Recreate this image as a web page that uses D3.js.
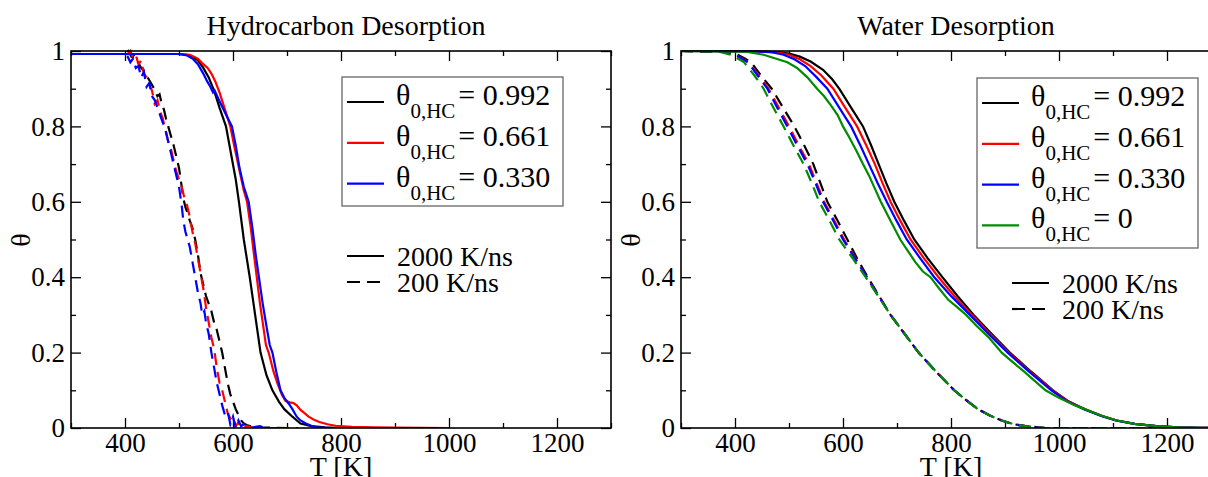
<!DOCTYPE html>
<html>
<head>
<meta charset="utf-8">
<script src="https://cdn.jsdelivr.net/npm/d3@7"></script>
<style>
  body { margin: 0; background: #fff; }
  svg text { font-family: "Liberation Serif", "DejaVu Serif", serif; fill: #000; }
</style>
</head>
<body>
<svg id="chart" width="1208" height="477" font-family="Liberation Serif, DejaVu Serif, serif"></svg>
<script>
// ---- data: [T (K), theta] ----
var hcSolidBlack = [[300,.992],[500,.992],[515,.99],[525,.985],[535,.975],[545,.955],[555,.93],[565,.895],[575,.85],[587,.8],[596,.73],[605,.66],[611,.6],[620,.5],[631,.4],[641,.3],[651,.2],[662,.14],[673,.1],[685,.07],[695,.05],[710,.03],[725,.012],[745,.005],[770,.002],[800,0],[1000,0]]
var hcSolidRed = [[300,.992],[500,.992],[520,.99],[535,.98],[545,.965],[553,.955],[560,.94],[567,.92],[575,.89],[584,.85],[595,.8],[602,.75],[608,.71],[614,.67],[620,.63],[626,.6],[633,.53],[638,.47],[644,.4],[650,.33],[656,.27],[661,.22],[666,.2],[675,.15],[682,.12],[690,.09],[697,.072],[705,.068],[712,.066],[718,.06],[725,.048],[732,.04],[740,.03],[750,.022],[760,.016],[775,.01],[790,.006],[820,.003],[860,.002],[900,.001],[1000,0]]
var hcSolidBlue = [[300,.992],[500,.992],[515,.988],[525,.98],[535,.965],[545,.94],[552,.92],[558,.905],[563,.89],[566,.895],[574,.87],[584,.84],[598,.8],[605,.75],[612,.69],[620,.64],[629,.6],[636,.53],[642,.46],[648,.4],[655,.33],[662,.27],[668,.22],[673,.2],[680,.15],[688,.1],[695,.08],[703,.065],[710,.05],[718,.03],[725,.02],[735,.012],[745,.006],[754,.002],[780,0],[980,0]]
var hcDashBlack = [[300,.992],[400,.992],[406,1],[412,.985],[418,.99],[424,.97],[430,.955],[436,.945],[442,.93],[448,.915],[454,.9],[460,.88],[464,.885],[468,.86],[472,.845],[476,.82],[480,.8],[485,.775],[490,.75],[495,.72],[500,.69],[504,.65],[508,.61],[512,.585],[516,.57],[520,.55],[525,.53],[530,.5],[535,.46],[540,.41],[545,.38],[550,.35],[555,.33],[560,.31],[565,.28],[570,.26],[575,.23],[580,.2],[585,.16],[590,.12],[595,.09],[600,.07],[605,.05],[610,.035],[615,.02],[620,.012],[625,.008],[635,.004],[650,.002],[670,.001],[700,0],[720,0]]
var hcDashRed = [[300,.992],[400,.992],[405,.99],[410,1],[415,.98],[420,.99],[425,.965],[430,.975],[435,.94],[440,.93],[445,.91],[450,.895],[455,.86],[460,.87],[465,.84],[470,.82],[475,.79],[480,.76],[485,.74],[490,.71],[495,.68],[500,.66],[505,.64],[510,.61],[515,.59],[520,.56],[525,.52],[530,.49],[535,.45],[540,.41],[545,.37],[550,.32],[555,.28],[560,.24],[565,.21],[570,.16],[575,.12],[580,.1],[585,.07],[590,.04],[595,.025],[600,.03],[605,.005],[610,.015],[615,0],[625,.005],[640,0],[650,0]]
var hcDashBlue = [[300,.992],[400,.992],[405,.985],[410,.97],[415,.98],[420,.955],[425,.96],[430,.93],[435,.945],[440,.905],[445,.915],[450,.88],[455,.87],[460,.85],[465,.83],[470,.81],[475,.79],[480,.76],[485,.73],[490,.7],[495,.67],[500,.64],[505,.59],[508,.55],[512,.52],[516,.5],[520,.48],[525,.44],[530,.4],[535,.36],[540,.33],[543,.3],[547,.31],[550,.28],[555,.25],[560,.2],[565,.16],[570,.12],[575,.09],[580,.06],[585,.035],[590,.045],[595,.01],[600,.03],[605,0],[610,.02],[615,.005],[620,.01],[630,0],[650,.005],[660,0],[690,0]]

var wSolidBlack = [[300,1],[450,.999],[480,.997],[500,.993],[520,.985],[540,.972],[563,.95],[580,.925],[593,.9],[615,.85],[637,.8],[652,.75],[666,.7],[680,.65],[695,.6],[713,.55],[732,.5],[757,.45],[784,.4],[812,.35],[842,.3],[875,.25],[909,.2],[948,.15],[989,.1],[1018,.07],[1048,.05],[1080,.032],[1107,.02],[1140,.011],[1180,.005],[1220,.002],[1261,.0005],[1300,0]]
var wSolidRed = [[300,1],[450,.999],[480,.996],[500,.99],[520,.978],[540,.96],[560,.935],[582,.9],[604,.85],[626,.8],[643,.75],[659,.7],[673,.65],[688,.6],[706,.55],[725,.5],[750,.45],[777,.4],[806,.35],[839,.3],[872,.25],[907,.2],[946,.15],[988,.1],[1018,.07],[1048,.05],[1080,.032],[1107,.02],[1140,.011],[1180,.005],[1220,.002],[1261,.0005],[1300,0]]
var wSolidBlue = [[300,1],[440,.999],[470,.996],[490,.99],[510,.978],[530,.96],[550,.932],[571,.9],[593,.85],[615,.8],[632,.75],[648,.7],[664,.65],[681,.6],[699,.55],[718,.5],[743,.45],[769,.4],[800,.35],[835,.3],[869,.25],[905,.2],[944,.15],[986,.1],[1016,.07],[1046,.05],[1078,.032],[1105,.02],[1140,.011],[1180,.005],[1220,.002],[1261,.0005],[1300,0]]
var wSolidGreen = [[300,1],[420,.998],[453,.99],[475,.98],[497,.97],[515,.955],[534,.93],[552,.9],[565,.88],[578,.855],[590,.83],[600,.8],[612,.77],[625,.735],[637,.7],[648,.67],[659,.635],[670,.6],[688,.55],[706,.5],[720,.47],[734,.44],[748,.415],[762,.4],[778,.37],[795,.34],[812,.32],[828,.3],[848,.27],[870,.24],[894,.2],[910,.18],[935,.15],[955,.125],[975,.1],[1000,.08],[1030,.06],[1048,.05],[1080,.032],[1107,.02],[1140,.011],[1180,.005],[1220,.002],[1261,.0005],[1300,0]]
var wDashBlack = [[300,1],[385,.998],[405,.99],[418,.98],[430,.97],[448,.935],[468,.9],[489,.85],[510,.8],[528,.75],[545,.7],[558,.65],[571,.6],[590,.55],[608,.5],[626,.45],[646,.4],[667,.35],[688,.3],[714,.25],[740,.2],[772,.15],[806,.1],[827,.075],[850,.05],[872,.033],[894,.02],[916,.01],[938,.005],[960,.002],[975,0],[1300,0]]
var wDashRed = [[300,1],[380,.998],[400,.99],[413,.98],[425,.97],[444,.935],[462,.9],[481,.85],[500,.8],[518,.75],[537,.7],[551,.65],[565,.6],[584,.55],[602,.5],[623,.45],[644,.4],[666,.35],[688,.3],[714,.25],[740,.2],[772,.15],[806,.1],[827,.075],[850,.05],[872,.033],[894,.02],[916,.01],[938,.005],[960,.002],[975,0],[1300,0]]
var wDashBlue = [[300,1],[380,.998],[400,.99],[412,.98],[424,.97],[442,.935],[460,.9],[478,.85],[497,.8],[515,.75],[534,.7],[549,.65],[563,.6],[582,.55],[600,.5],[622,.45],[644,.4],[666,.35],[688,.3],[714,.25],[740,.2],[772,.15],[806,.1],[827,.075],[850,.05],[872,.033],[894,.02],[916,.01],[938,.005],[960,.002],[975,0],[1300,0]]
var wDashGreen = [[300,1],[370,.998],[392,.99],[405,.98],[417,.97],[436,.935],[453,.9],[471,.85],[490,.8],[508,.75],[527,.7],[542,.65],[556,.6],[575,.55],[593,.5],[618,.45],[642,.4],[665,.35],[688,.3],[714,.25],[740,.2],[772,.15],[806,.1],[827,.075],[850,.05],[872,.033],[894,.02],[916,.01],[938,.005],[960,.002],[975,0],[1300,0]]

var xTicks = [400, 600, 800, 1000, 1200]
var xMinor = [300, 500, 700, 900, 1100, 1300]
var yTicks = [0, 0.2, 0.4, 0.6, 0.8, 1]
var yMinor = [0.1, 0.3, 0.5, 0.7, 0.9]
var legendLabels = ["= 0.992", "= 0.661", "= 0.330", "= 0"]
var rateLabels = ["2000 K/ns", "200 K/ns"]
var colors = ["#000000", "#ff0000", "#0000ff", "#008b00"]

var serif = "'Liberation Serif', 'DejaVu Serif', serif"
var svg = d3.select("#chart")
var width = 540, height = 377

function drawPanel(id, left, title, solids, dashes, nLegend, legBox, rateBox) {
   var g = svg.append("g").attr("transform", "translate(" + left + ",51)")
   var xScale = d3.scaleLinear().domain([300, 1300]).range([0, width])
   var yScale = d3.scaleLinear().domain([0, 1]).range([height, 0])

   g.append("clipPath").attr("id", "clip-" + id)
      .append("rect").attr("width", width).attr("height", height + 2).attr("y", -2)

   // ticks (inward on all sides)
   g.append("g").attr("transform", "translate(0," + height + ")")
      .call(d3.axisBottom(xScale).tickValues(xTicks).tickSize(-10).tickPadding(5).tickFormat(d3.format("d")))
   g.append("g").attr("transform", "translate(0," + height + ")")
      .call(d3.axisBottom(xScale).tickValues(xMinor).tickSize(-5).tickFormat(""))
   g.append("g").call(d3.axisTop(xScale).tickValues(xTicks).tickSize(-10).tickFormat(""))
   g.append("g").call(d3.axisTop(xScale).tickValues(xMinor).tickSize(-5).tickFormat(""))
   g.append("g")
      .call(d3.axisLeft(yScale).tickValues(yTicks).tickSize(-10).tickPadding(6)
         .tickFormat(d => (d === 0 || d === 1) ? d : d.toFixed(1)))
   g.append("g").call(d3.axisLeft(yScale).tickValues(yMinor).tickSize(-5).tickFormat(""))
   g.append("g").attr("transform", "translate(" + width + ",0)")
      .call(d3.axisRight(yScale).tickValues(yTicks).tickSize(-10).tickFormat(""))
   g.append("g").attr("transform", "translate(" + width + ",0)")
      .call(d3.axisRight(yScale).tickValues(yMinor).tickSize(-5).tickFormat(""))

   g.selectAll(".domain").remove()
   g.selectAll("g").attr("font-family", serif)
   g.selectAll(".tick line").attr("stroke", "#000").attr("stroke-width", 1.3)
   g.selectAll(".tick text").style("font-size", "27px").attr("fill", "#000")
      .style("font-family", serif)

   var line = d3.line().x(d => xScale(d[0])).y(d => yScale(d[1]))
   var lines = g.append("g").attr("clip-path", "url(#clip-" + id + ")")

   dashes.forEach(function(s, i) {
      lines.append("path").datum(s)
         .attr("d", line).attr("fill", "none")
         .attr("stroke", colors[i]).attr("stroke-width", 2.2)
         .attr("stroke-dasharray", "12,7")
   })
   solids.forEach(function(s, i) {
      lines.append("path").datum(s)
         .attr("d", line).attr("fill", "none")
         .attr("stroke", colors[i]).attr("stroke-width", 2.2)
   })

   g.append("rect").attr("width", width).attr("height", height)
      .attr("fill", "none").attr("stroke", "#000").attr("stroke-width", 1.6)

   // titles
   svg.append("text").attr("x", left + width / 2 + 5).attr("y", 35)
      .attr("text-anchor", "middle").style("font-size", "28px").text(title)
   svg.append("text").attr("x", left + width / 2).attr("y", 476)
      .attr("text-anchor", "middle").style("font-size", "28px").text("T [K]")
   svg.append("text")
      .attr("transform", "translate(" + (left - 49) + ",240) rotate(-90)")
      .attr("text-anchor", "middle").attr("dy", "0.3em").style("font-size", "28px").text("θ")

   // legend box
   svg.append("rect").attr("x", legBox[0]).attr("y", legBox[1])
      .attr("width", legBox[2]).attr("height", legBox[3])
      .attr("fill", "#fff").attr("stroke", "#666").attr("stroke-width", 1.3)
   for (var i = 0; i < nLegend; i++) {
      var ly = legBox[1] + 25 + i * 40.8
      svg.append("line").attr("x1", legBox[0] + 5).attr("x2", legBox[0] + 42)
         .attr("y1", ly).attr("y2", ly).attr("stroke", colors[i]).attr("stroke-width", 2.2)
      var t = svg.append("text").attr("x", legBox[0] + 54).attr("y", ly + 3).style("font-size", "30px")
      t.append("tspan").text("θ")
      t.append("tspan").attr("dy", 13).style("font-size", "21px").text("0,HC")
      t.append("tspan").attr("dy", -13).attr("dx", 3).text(legendLabels[i])
   }

   // rate legend
   rateLabels.forEach(function(r, i) {
      var ly = rateBox[1] + i * 26
      svg.append("line").attr("x1", rateBox[0]).attr("x2", rateBox[0] + 37)
         .attr("y1", ly).attr("y2", ly).attr("stroke", "#000").attr("stroke-width", 2.2)
         .attr("stroke-dasharray", i === 1 ? "13,7" : null)
      svg.append("text").attr("x", rateBox[0] + 50).attr("y", ly + 10)
         .style("font-size", "28px").text(r)
   })
}

drawPanel("hc", 71, "Hydrocarbon Desorption",
   [hcSolidBlack, hcSolidRed, hcSolidBlue],
   [hcDashBlack, hcDashRed, hcDashBlue],
   3, [342, 77, 221, 129], [347, 256])

drawPanel("w", 681, "Water Desorption",
   [wSolidBlack, wSolidRed, wSolidBlue, wSolidGreen],
   [wDashBlack, wDashRed, wDashBlue, wDashGreen],
   4, [977, 78, 221, 170], [1012, 283])
</script>
</body>
</html>
